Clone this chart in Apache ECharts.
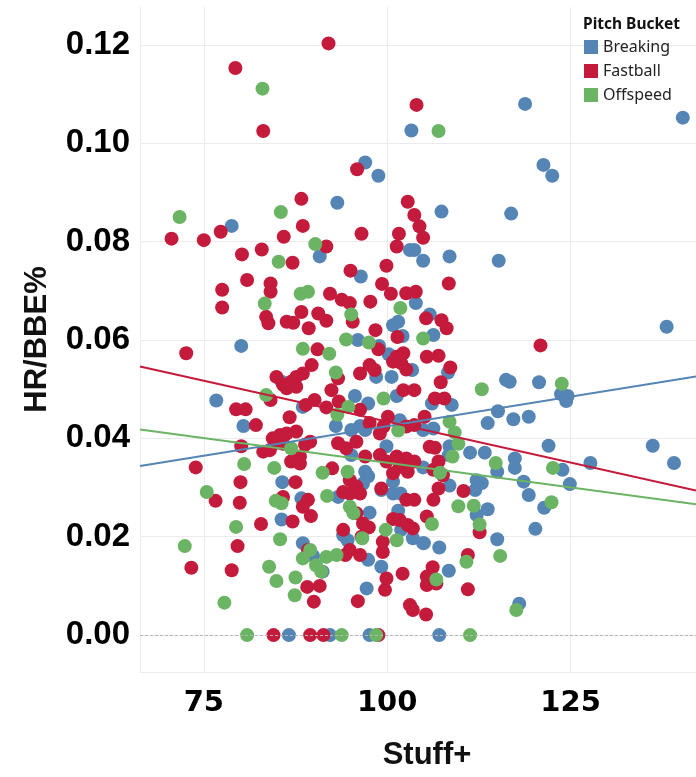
<!DOCTYPE html>
<html>
<head>
<meta charset="UTF-8">
<title>HR/BBE% vs Stuff+</title>
<script src="https://cdn.jsdelivr.net/npm/echarts@6/dist/echarts.min.js"></script>
<style>
  html, body { margin: 0; padding: 0; background: #fff; }
  #chart { width: 696px; height: 777px; }
</style>
</head>
<body>
<div id="chart"></div>
<script>
// [Stuff+, HR/BBE%] per pitch
const breakingPts = [
  [103.3,0.1026],[118.8,0.108],[140.3,0.1052],[97.0,0.0961],[98.8,0.0934],[121.3,0.0956],[122.5,0.0934],
  [93.2,0.0879],[107.4,0.0861],[116.9,0.0857],[78.8,0.0832],[90.8,0.077],[103.1,0.0783],[103.7,0.0783],
  [104.9,0.0761],[108.5,0.077],[115.2,0.0761],[96.4,0.0729],[103.9,0.0675],[105.8,0.0652],[100.8,0.063],
  [101.5,0.0637],[138.1,0.0627],[106.3,0.061],[102.1,0.0608],[96.0,0.06],[98.9,0.0588],[80.1,0.0588],
  [100.2,0.0571],[108.3,0.0534],[98.5,0.0525],[100.6,0.0525],[103.4,0.0539],[85.6,0.0515],[116.2,0.0519],
  [116.7,0.0515],[120.7,0.0514],[123.7,0.049],[124.6,0.0486],[124.4,0.0476],[101.3,0.0486],[76.7,0.0477],
  [95.6,0.0486],[97.4,0.0471],[88.5,0.0464],[106.1,0.0471],[108.8,0.0468],[115.1,0.0455],[113.7,0.0431],
  [117.2,0.0439],[119.3,0.0444],[101.7,0.0437],[80.4,0.0425],[93.0,0.0425],[95.1,0.0417],[96.3,0.0425],
  [97.0,0.0417],[104.9,0.0417],[106.3,0.042],[99.9,0.0384],[108.5,0.0384],[108.4,0.0366],[95.1,0.0366],
  [111.3,0.0371],[113.3,0.0371],[122.0,0.0385],[136.2,0.0385],[139.1,0.035],[127.7,0.035],[104.9,0.0341],
  [115.0,0.0332],[117.4,0.0359],[117.4,0.034],[123.9,0.0336],[124.9,0.0307],[97.0,0.0332],[97.4,0.0323],
  [96.7,0.0308],[85.7,0.0311],[100.8,0.0312],[112.2,0.0315],[112.9,0.0309],[112.0,0.0295],[108.5,0.0304],
  [118.6,0.0312],[119.3,0.0285],[88.3,0.0278],[93.3,0.0281],[99.2,0.0295],[100.8,0.0288],[101.8,0.0288],
  [112.2,0.0244],[113.7,0.0256],[121.4,0.0259],[120.2,0.0216],[115.0,0.0195],[105.0,0.0187],[107.1,0.0178],
  [85.6,0.0235],[97.6,0.0249],[101.5,0.0253],[101.9,0.0214],[103.5,0.0197],[104.9,0.0187],[94.0,0.0203],
  [94.6,0.0193],[88.5,0.0187],[89.9,0.0161],[91.2,0.0129],[97.4,0.0153],[99.2,0.0139],[108.4,0.0131],
  [97.2,0.0095],[118.0,0.0064],[86.6,0],[92.2,0],[97.6,0],[107.1,0]
];
const fastballPts = [
  [92.0,0.1203],[79.3,0.1153],[83.1,0.1025],[104.0,0.1078],[95.9,0.0947],[88.3,0.0887],[102.8,0.0881],
  [77.3,0.082],[70.6,0.0806],[75.0,0.0803],[88.5,0.0832],[85.9,0.081],[82.9,0.0784],[80.2,0.0774],
  [87.1,0.0757],[91.7,0.079],[96.5,0.0816],[103.7,0.0854],[104.4,0.0831],[101.6,0.0816],[104.9,0.0808],
  [101.3,0.079],[99.9,0.0751],[95.0,0.0741],[99.3,0.0714],[100.5,0.0694],[102.6,0.0695],[103.9,0.0698],
  [108.4,0.0715],[77.5,0.0702],[77.5,0.0666],[80.9,0.0722],[84.1,0.0715],[84.1,0.0698],[92.2,0.0694],
  [93.8,0.0682],[94.9,0.0675],[97.7,0.0678],[95.3,0.0637],[88.3,0.0657],[90.6,0.0654],[91.7,0.0639],
  [83.5,0.0647],[83.8,0.0634],[86.3,0.0637],[87.2,0.0635],[89.3,0.0624],[98.4,0.062],[105.3,0.0644],
  [107.4,0.064],[108.1,0.0624],[101.4,0.0606],[120.9,0.0589],[105.4,0.0566],[107.0,0.0568],[108.6,0.0544],
  [107.3,0.0514],[106.5,0.0481],[107.8,0.0481],[98.8,0.0581],[72.6,0.0573],[90.5,0.0581],[101.3,0.0566],
  [102.2,0.0573],[89.7,0.0549],[88.5,0.0532],[87.6,0.0525],[86.9,0.0515],[87.6,0.0505],[84.9,0.0525],
  [85.8,0.0509],[86.3,0.0502],[93.3,0.0522],[92.4,0.0498],[96.3,0.0532],[97.6,0.0549],[98.3,0.0539],
  [102.6,0.054],[100.8,0.0556],[101.9,0.0553],[102.2,0.0498],[103.7,0.0498],[84.1,0.0478],[90.1,0.0478],
  [91.7,0.0463],[88.9,0.0468],[93.4,0.0475],[79.4,0.0459],[80.7,0.0459],[86.7,0.0443],[82.1,0.0427],
  [96.3,0.0458],[100.1,0.0444],[97.6,0.0431],[99.5,0.0424],[99.0,0.041],[102.6,0.0424],[103.7,0.0427],
  [105.1,0.0444],[84.4,0.04],[85.4,0.0407],[86.3,0.041],[87.6,0.0414],[84.9,0.0391],[85.8,0.0389],
  [89.5,0.0393],[88.8,0.0387],[80.1,0.0384],[83.1,0.0373],[84.0,0.0376],[88.1,0.0363],[86.9,0.0353],
  [88.1,0.0349],[93.3,0.039],[94.4,0.038],[95.8,0.0393],[97.0,0.0363],[99.0,0.0366],[99.9,0.0353],
  [101.3,0.0363],[102.6,0.0359],[103.7,0.0353],[101.7,0.0342],[102.8,0.0332],[100.8,0.0329],[105.8,0.0383],
  [106.5,0.0381],[107.0,0.0353],[106.3,0.0336],[107.6,0.0325],[73.9,0.0341],[92.5,0.0339],[94.9,0.0315],
  [95.8,0.0302],[96.3,0.0288],[94.0,0.0291],[94.9,0.0288],[80.0,0.0311],[87.5,0.0311],[99.2,0.0298],
  [110.4,0.0293],[107.0,0.0298],[106.3,0.0275],[76.6,0.0273],[79.9,0.0269],[85.8,0.0281],[89.2,0.0275],
  [88.5,0.0261],[89.6,0.0242],[102.6,0.0275],[103.7,0.0275],[105.4,0.0241],[112.6,0.0209],[82.8,0.0226],
  [87.1,0.0231],[95.8,0.0248],[96.7,0.0227],[94.0,0.0214],[97.5,0.0219],[100.8,0.0236],[101.7,0.0234],
  [102.8,0.0224],[103.5,0.0217],[96.5,0.02],[94.9,0.0173],[96.3,0.0163],[94.3,0.0163],[79.6,0.0181],
  [89.2,0.0173],[99.4,0.019],[99.4,0.0169],[111.0,0.0163],[73.3,0.0137],[78.8,0.0132],[89.1,0.0098],
  [90.8,0.01],[90.0,0.0068],[99.9,0.0115],[99.7,0.0092],[102.1,0.0125],[96.0,0.0069],[103.1,0.0061],
  [103.5,0.0051],[105.3,0.0042],[106.2,0.0138],[105.4,0.0119],[105.4,0.0102],[106.7,0.0105],[111.0,0.0093],
  [84.5,0],[89.5,0],[91.3,0],[98.8,0]
];
const offspeedPts = [
  [83.0,0.1111],[107.0,0.1025],[85.5,0.086],[71.7,0.085],[85.2,0.0759],[90.2,0.0795],[83.3,0.0674],
  [88.2,0.0694],[89.2,0.0698],[101.8,0.0665],[95.1,0.0652],[104.9,0.0603],[94.4,0.0601],[97.5,0.0595],
  [88.5,0.0582],[92.1,0.0572],[93.0,0.0534],[112.9,0.05],[123.8,0.0511],[83.5,0.0488],[99.5,0.0481],
  [94.7,0.0464],[93.2,0.0448],[101.5,0.0416],[108.5,0.0434],[109.2,0.0412],[109.7,0.0389],[108.9,0.0363],
  [107.2,0.033],[86.9,0.038],[114.8,0.035],[122.6,0.034],[80.5,0.0348],[84.6,0.034],[91.2,0.033],
  [94.6,0.0332],[75.4,0.0291],[84.8,0.0273],[85.6,0.0268],[91.8,0.0283],[109.7,0.0262],[111.8,0.0263],
  [122.4,0.027],[106.1,0.0226],[112.6,0.0225],[79.4,0.022],[94.9,0.0261],[95.4,0.0248],[99.8,0.0214],
  [101.3,0.0193],[96.6,0.0197],[85.4,0.0195],[72.4,0.0181],[89.5,0.0173],[88.5,0.0156],[91.7,0.0159],
  [93.1,0.0163],[90.3,0.0142],[91.0,0.0129],[115.4,0.0161],[110.8,0.0149],[83.9,0.0139],[84.9,0.011],
  [87.5,0.0117],[87.4,0.0081],[106.7,0.0113],[117.6,0.0051],[77.8,0.0066],[80.9,0],[93.8,0],[98.5,0],[111.3,0]
];

// linear trend ends (left edge, right edge of the pane)
const trendX = [66.3, 142.1];
const breakingTrend = [0.0344, 0.0526];
const fastballTrend = [0.0546, 0.0294];
const offspeedTrend = [0.0418, 0.0266];

const bucketNames = ['Breaking', 'Fastball', 'Offspeed'];
const bucketColors = ['#5485b5', '#c41a3b', '#6bb463'];

const xRange = [66.3, 142.1];
const yRange = [-0.0075, 0.1277];

const chart = echarts.init(document.getElementById('chart'));

function trendSeries(name, ys, color) {
    return {
        name: name + ' trend',
        type: 'line',
        data: trendX.map((x, i) => [x, ys[i]]),
        showSymbol: false,
        symbol: 'none',
        silent: true,
        z: 5,
        lineStyle: { color: color, width: 2 }
    };
}

const option = {
    animation: false,
    title: {
        text: 'Pitch Bucket',
        left: 578,
        top: 12,
        textStyle: { fontFamily: 'Noto Sans', fontWeight: 'bold', fontSize: 15.5, color: '#111' }
    },
    legend: {
        data: bucketNames,
        orient: 'vertical',
        left: 579,
        top: 34,
        itemWidth: 14,
        itemHeight: 14,
        itemGap: 8,
        icon: 'rect',
        textStyle: { fontFamily: 'Noto Sans', fontSize: 16, color: '#222' }
    },
    grid: { left: 140, right: 0, top: 7, bottom: 105, containLabel: false },
    xAxis: {
        type: 'value',
        min: xRange[0],
        max: xRange[1],
        minInterval: 25,
        maxInterval: 25,
        name: 'Stuff+',
        nameLocation: 'middle',
        nameGap: 68,
        nameTextStyle: {
            fontFamily: 'Liberation Sans', fontWeight: 'bold', fontSize: 31, color: '#111',
            padding: [0, 0, 0, 18]
        },
        axisLine: { show: false },
        axisTick: { show: false },
        axisLabel: {
            showMinLabel: false,
            showMaxLabel: false,
            margin: 17,
            fontFamily: 'DejaVu Sans', fontWeight: 'bold', fontSize: 29, color: '#000'
        },
        splitLine: { show: true, lineStyle: { color: '#ebebeb', width: 1 } }
    },
    yAxis: {
        type: 'value',
        min: yRange[0],
        max: yRange[1],
        minInterval: 0.02,
        maxInterval: 0.02,
        name: 'HR/BBE%',
        nameLocation: 'middle',
        nameGap: 87,
        nameTextStyle: { fontFamily: 'Liberation Sans', fontWeight: 'bold', fontSize: 31, color: '#111' },
        axisLine: { show: false },
        axisTick: { show: false },
        axisLabel: {
            showMinLabel: false,
            showMaxLabel: false,
            margin: 10,
            formatter: v => v.toFixed(2),
            fontFamily: 'Liberation Sans', fontWeight: 'bold', fontSize: 33, color: '#000'
        },
        splitLine: { show: true, showMaxLine: false, lineStyle: { color: '#ebebeb', width: 1 } }
    },
    series: [
        {
            name: bucketNames[0], type: 'scatter', data: breakingPts,
            symbolSize: 14, itemStyle: { color: bucketColors[0], opacity: 1 },
            markLine: {
                silent: true, symbol: 'none', label: { show: false },
                lineStyle: { color: '#b5b5b5', type: [3, 2], width: 1 },
                data: [{ yAxis: 0 }]
            }
        },
        {
            name: bucketNames[1], type: 'scatter', data: fastballPts,
            symbolSize: 14, itemStyle: { color: bucketColors[1], opacity: 1 }
        },
        {
            name: bucketNames[2], type: 'scatter', data: offspeedPts,
            symbolSize: 14, itemStyle: { color: bucketColors[2], opacity: 1 }
        },
        trendSeries(bucketNames[0], breakingTrend, bucketColors[0]),
        trendSeries(bucketNames[1], fastballTrend, bucketColors[1]),
        trendSeries(bucketNames[2], offspeedTrend, bucketColors[2])
    ]
};

chart.setOption(option);
</script>
</body>
</html>
